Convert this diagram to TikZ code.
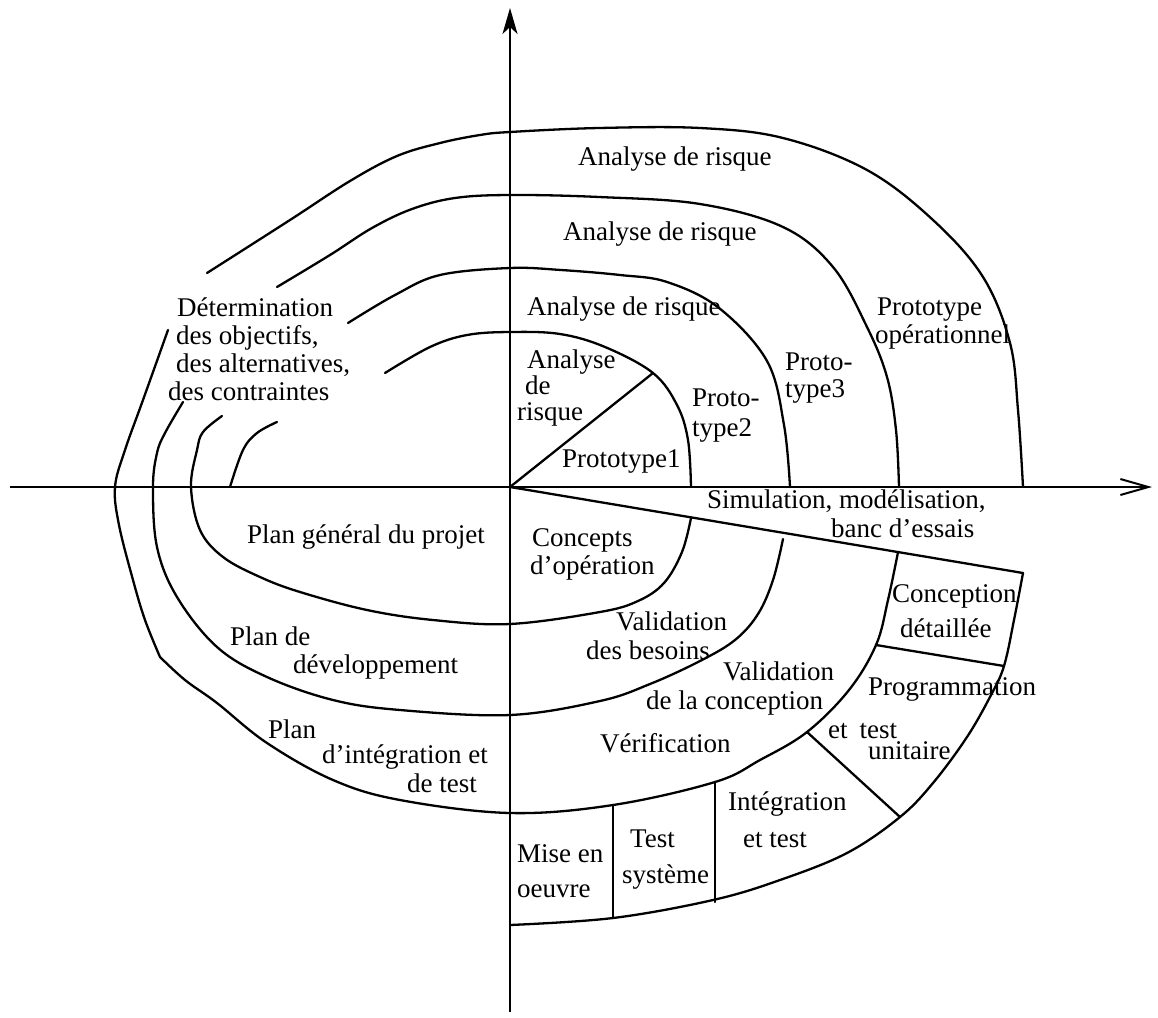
\documentclass[tikz,border=0pt]{standalone}
\usepackage{fontspec}
\setmainfont{Liberation Serif}
\usetikzlibrary{arrows.meta}
\begin{document}
\begin{tikzpicture}[x=1pt,y=-1pt,
  curve/.style={line width=2.3pt, line cap=round, line join=round},
  axisline/.style={line width=2pt},
  lbl/.style={anchor=base west, inner sep=0pt, font=\fontsize{27}{28}\selectfont}]
\fill[white] (0,0) rectangle (1158,1017);
\useasboundingbox (0,0) rectangle (1158,1017);

% axes
\coordinate (O) at (510,487);
\coordinate (xl) at (10,487);
\coordinate (xr) at (1152,487);
\coordinate (yb) at (510,1012);
\coordinate (yt) at (510,8);
\draw[axisline, -{Straight Barb[length=28pt,width=16pt]}] (xl) -- (xr);
\draw[axisline, -{Stealth[length=26pt,width=15pt,inset=7pt]}] (yb) -- (yt);

% spiral, turn 1
\draw[curve] plot[smooth, tension=0.6] coordinates {(230,487) (243,450) (257,433) (277,422)};
\draw[curve] plot[smooth, tension=0.6] coordinates {(385,373) (430,347) (467,335) (510,332) (560,334) (605,347) (653,373) (677,405) (688,440) (691,487)};
\draw[curve] plot[smooth, tension=0.6] coordinates {(691,518) (682,552) (664,583) (638,601) (600,612) (510,624) (433,620) (367,610) (300,592) (260,577) (223,557) (200,530) (191,487) (197,450) (203,432) (222,416)};

% turn 2
\draw[curve] plot[smooth, tension=0.6] coordinates {(348,323) (395,295) (440,275) (510,268) (561,270) (620,275) (667,282) (719,308) (767,361) (784,425) (790,487)};
\draw[curve] plot[smooth, tension=0.6] coordinates {(783,539) (773,580) (758,614) (735,640) (700,661) (650,684) (600,701) (510,715) (400,710) (333,700) (267,677) (217,647) (177,597) (157,547) (153,487) (157,453) (165,433) (183,402)};

% turn 3
\draw[curve] plot[smooth, tension=0.6] coordinates {(277,287) (330,255) (372,228) (412,209) (455,198) (510,195) (599,197) (700,204) (783,227) (833,267) (867,327) (887,377) (896,430) (899,487)};
\draw[curve] plot[smooth, tension=0.6] coordinates {(898,552) (888,600) (876,645) (849,690) (807,732) (760,760) (715,782) (613,805) (510,813) (400,800) (333,780) (267,743) (217,703) (185,680) (160,657)};
\draw[curve] plot[smooth, tension=0.6] coordinates {(160,657) (145,620) (133,580) (119,525) (115,487) (125,450) (143,400) (168,330)};

% turn 4
\draw[curve] plot[smooth, tension=0.6] coordinates {(207,273) (290,220) (350,181) (397,156) (440,143) (480,135) (510,132) (599,128) (700,128) (783,138) (867,170) (933,220) (983,277) (1010,343) (1018,410) (1023,487)};
\draw[curve] plot[smooth, tension=0.6] coordinates {(1023,573) (1014,620) (1004,666) (991,695) (967,737) (933,783) (900,817) (847,853) (780,880) (713,900) (613,918) (510,925)};

% straight lines
\coordinate (d1) at (653,373);
\coordinate (s1) at (1023,573);
\draw[curve] (O) -- (d1);
\draw[curve] (O) -- (s1);
\coordinate (a1) at (876,645); \coordinate (a2) at (1004,666);
\coordinate (b1) at (807,732); \coordinate (b2) at (900,817);
\coordinate (c1) at (715,782); \coordinate (c2) at (715,902);
\coordinate (e1) at (613,805); \coordinate (e2) at (613,918);
\draw[curve] (a1) -- (a2);
\draw[curve] (b1) -- (b2);
\draw[curve] (c1) -- (c2);
\draw[curve] (e1) -- (e2);

% labels
\node[lbl] (ar1) at (578,165) {Analyse de risque};
\node[lbl] (ar2) at (563,240) {Analyse de risque};
\node[lbl] (ar3) at (527,315) {Analyse de risque};
\node[lbl] (ar4a) at (527,368) {Analyse};
\node[lbl] (ar4b) at (525,394) {de};
\node[lbl] (ar4c) at (517,420) {risque};
\node[lbl] (p1) at (562,467) {Prototype1};
\node[lbl] (p2a) at (692,406) {Proto-};
\node[lbl] (p2b) at (692,436) {type2};
\node[lbl] (p3a) at (785,370) {Proto-};
\node[lbl] (p3b) at (785,397) {type3};
\node[lbl] (po1) at (877,315) {Prototype};
\node[lbl] (po2) at (875,343) {opérationnel};
\node[lbl] (det1) at (177,316) {Détermination};
\node[lbl] (det2) at (176,344) {des objectifs,};
\node[lbl] (det3) at (176,372) {des alternatives,};
\node[lbl] (det4) at (168,400) {des contraintes};
\node[lbl] (sim1) at (707,508) {Simulation, modélisation,};
\node[lbl] (sim2) at (831,537) {banc d’essais};
\node[lbl] (pg) at (247,543) {Plan général du projet};
\node[lbl] (co1) at (532,546) {Concepts};
\node[lbl] (co2) at (530,574) {d’opération};
\node[lbl] (pd1) at (230,645) {Plan de};
\node[lbl] (pd2) at (293,673) {développement};
\node[lbl] (vb1) at (616,630) {Validation};
\node[lbl] (vb2) at (586,659) {des besoins};
\node[lbl] (vc1) at (723,680) {Validation};
\node[lbl] (vc2) at (646,709) {de la conception};
\node[lbl] (cd1) at (892,602) {Conception};
\node[lbl] (cd2) at (900,637) {détaillée};
\node[lbl] (pr1) at (868,695) {Programmation};
\node[lbl] (pr2) at (828,738) {et\hspace{12pt}test};
\node[lbl] (pr3) at (868,759) {unitaire};
\node[lbl] (ve) at (600,752) {Vérification};
\node[lbl] (pi1) at (268,738) {Plan};
\node[lbl] (pi2) at (322,763) {d’intégration et};
\node[lbl] (pi3) at (407,792) {de test};
\node[lbl] (it1) at (728,810) {Intégration};
\node[lbl] (it2) at (743,847) {et test};
\node[lbl] (ts1) at (630,847) {Test};
\node[lbl] (ts2) at (622,883) {système};
\node[lbl] (mo1) at (517,862) {Mise en};
\node[lbl] (mo2) at (517,897) {oeuvre};
\end{tikzpicture}
\end{document}
